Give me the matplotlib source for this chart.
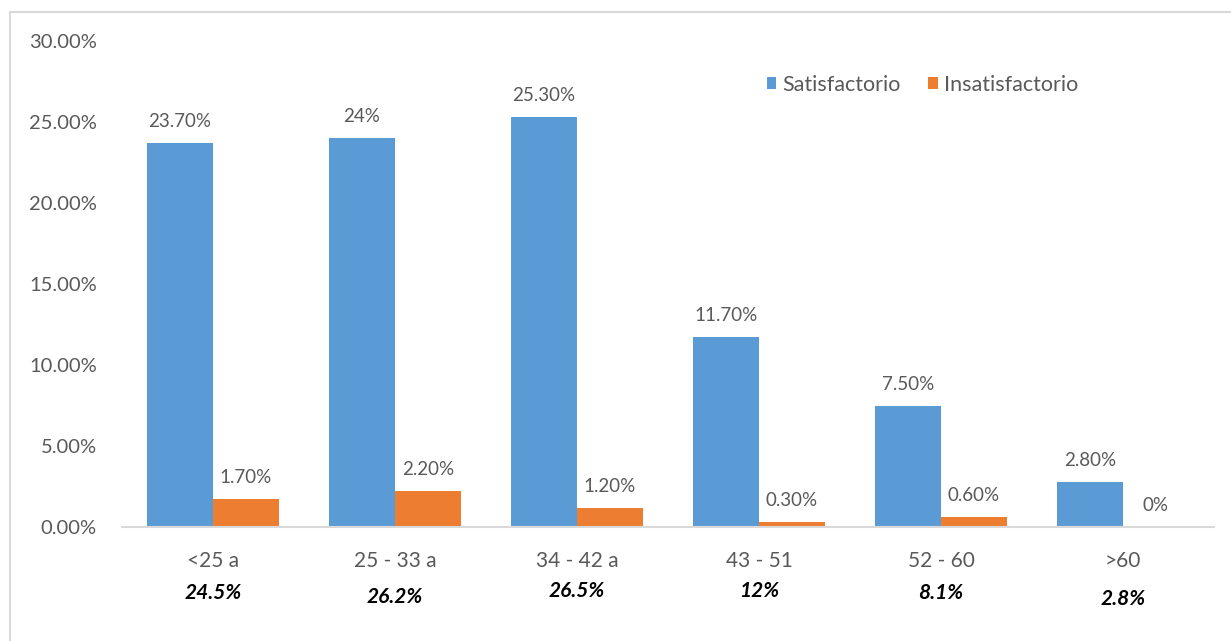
import matplotlib
matplotlib.use("Agg")
import matplotlib.pyplot as plt
from matplotlib.lines import Line2D
import numpy as np

categories = ["<25 a", "25 - 33 a", "34 - 42 a", "43 - 51", "52 - 60", ">60"]
satisfactorio = [23.7, 24.0, 25.3, 11.7, 7.5, 2.8]
insatisfactorio = [1.7, 2.2, 1.2, 0.3, 0.6, 0.0]
sat_labels = ["23.70%", "24%", "25.30%", "11.70%", "7.50%", "2.80%"]
insat_labels = ["1.70%", "2.20%", "1.20%", "0.30%", "0.60%", "0%"]
totals = ["24.5%", "26.2%", "26.5%", "12%", "8.1%", "2.8%"]
total_offsets = [0, 4, -2, -2, 0, 6]  # small vertical shifts in pixels

BLUE = "#5B9BD5"
ORANGE = "#ED7D31"
GRAY = "#595959"

plt.rcParams["font.family"] = ["Lato", "DejaVu Sans"]

W, H = 1231, 641
fig = plt.figure(figsize=(W / 100, H / 100), dpi=100)
ax = fig.add_axes([122 / W, 1 - 527 / H, (1214 - 122) / W, (527 - 41) / H])

x = np.arange(len(categories))
bw = 0.3626
ax.bar(x - bw / 2, satisfactorio, bw, color=BLUE, label="Satisfactorio", zorder=2)
ax.bar(x + bw / 2, insatisfactorio, bw, color=ORANGE, label="Insatisfactorio", zorder=2)

for i in range(len(categories)):
    ax.annotate(sat_labels[i], (x[i] - bw / 2, satisfactorio[i]), xytext=(0, 13),
                textcoords="offset pixels", ha="center", va="bottom",
                fontsize=13.5, color=GRAY)
    ax.annotate(insat_labels[i], (x[i] + bw / 2, insatisfactorio[i]), xytext=(0, 13),
                textcoords="offset pixels", ha="center", va="bottom",
                fontsize=13.5, color=GRAY)
    ax.annotate(totals[i], (x[i], 0), xytext=(0, -66 - total_offsets[i]),
                textcoords="offset pixels", ha="center", va="center",
                fontsize=15, fontweight="bold", fontstyle="italic", color="black")

ax.set_xlim(-0.5, len(categories) - 0.5)
ax.set_ylim(0, 30)
ax.set_yticks(np.arange(0, 31, 5))
ax.set_yticklabels([f"{v:.2f}%" for v in np.arange(0, 31, 5)])
ax.set_xticks(x)
ax.set_xticklabels(categories)
ax.tick_params(axis="y", length=0, labelsize=14.5, labelcolor=GRAY, pad=18)
ax.tick_params(axis="x", length=0, labelsize=15, labelcolor=GRAY, pad=17)

for side in ["top", "right", "left"]:
    ax.spines[side].set_visible(False)
ax.spines["bottom"].set_color("#D9D9D9")
ax.spines["bottom"].set_linewidth(1.5)

leg = ax.legend(loc="upper left", bbox_to_anchor=((758 - 122) / (1214 - 122), (527 - 66) / (527 - 41)),
                ncol=2, frameon=False, fontsize=15.5, handlelength=0.45, handleheight=0.45,
                handletextpad=0.3, columnspacing=1.25, borderaxespad=0)
for t in leg.get_texts():
    t.set_color(GRAY)

# outer chart frame (top and left edges visible)
fig.add_artist(Line2D([10 / W, 10 / W], [0, 1 - 12 / H], transform=fig.transFigure,
                      color="#D9D9D9", lw=1.5))
fig.add_artist(Line2D([10 / W, 1], [1 - 12 / H, 1 - 12 / H], transform=fig.transFigure,
                      color="#D9D9D9", lw=1.5))

fig.savefig("out.png", dpi=100, facecolor="white")
